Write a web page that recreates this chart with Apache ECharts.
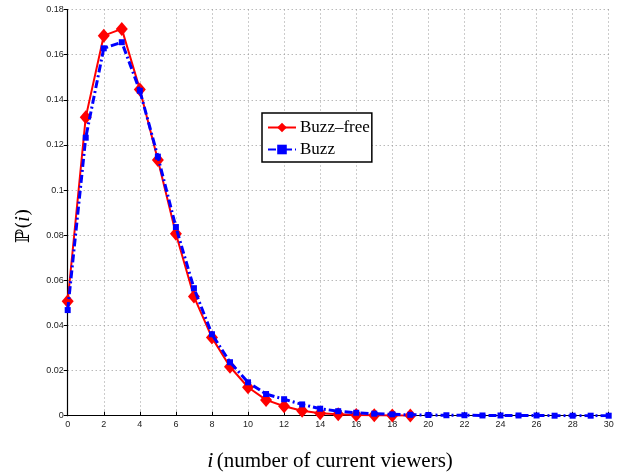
<!DOCTYPE html>
<html>
<head>
<meta charset="utf-8">
<script src="https://cdn.jsdelivr.net/npm/echarts@6/dist/echarts.min.js"></script>
<style>html,body{margin:0;padding:0;background:#fff}#c{width:638px;height:475px}</style>
</head>
<body>
<div id="c"></div>
<script>
var xValues = [0,1,2,3,4,5,6,7,8,9,10,11,12,13,14,15,16,17,18,19,20,21,22,23,24,25,26,27,28,29,30];
var buzzFree = [0.0507,0.1322,0.1684,0.1714,0.1446,0.1133,0.0806,0.0528,0.0346,0.0217,0.0126,0.0070,0.0042,0.0022,0.0011,0.0006,0.0003,0.0002,0.0001,0.0001];
var buzz = [0.0468,0.1232,0.1628,0.1655,0.1440,0.1148,0.0836,0.0565,0.0361,0.0237,0.0148,0.0096,0.0073,0.0050,0.0031,0.0020,0.0013,0.0009,0.0006,0.0004,0.0003,0.0002,0.0002,0.0001,0.0001,0.0001,0.0001,0.0000,0.0000,0.0000,0.0000];
var yTicks = [0,0.02,0.04,0.06,0.08,0.1,0.12,0.14,0.16,0.18];
var xTicks = [0,2,4,6,8,10,12,14,16,18,20,22,24,26,28,30];

function pairs(vals){ return vals.map(function(v,i){ return [xValues[i], v]; }); }

var chart = echarts.init(document.getElementById('c'), null, {renderer:'canvas'});
var labelFont = {fontFamily:'Liberation Sans, Arial, sans-serif', fontSize:9, color:'#222'};
chart.setOption({
  animation:false,
  backgroundColor:'#fff',
  grid:{left:67.7, right:29.3, top:9.5, bottom:59.3, containLabel:false},
  xAxis:{
    type:'value', min:xTicks[0], max:xTicks[xTicks.length-1], interval:2,
    axisLine:{onZero:false, lineStyle:{color:'#000', width:1.2}},
    axisTick:{inside:true, length:4, lineStyle:{color:'#000'}},
    axisLabel:Object.assign({margin:4}, labelFont),
    splitLine:{show:true, lineStyle:{color:'#999', type:[1,3], width:1}}
  },
  yAxis:{
    type:'value', min:yTicks[0], max:yTicks[yTicks.length-1], interval:0.02,
    axisLine:{show:true, onZero:false, lineStyle:{color:'#000', width:1.2}},
    axisTick:{show:true, inside:false, length:4, lineStyle:{color:'#000'}},
    axisLabel:Object.assign({margin:4}, labelFont),
    splitLine:{show:true, lineStyle:{color:'#999', type:[1,3], width:1}}
  },
  legend:{
    orient:'vertical', left:262, top:113,
    backgroundColor:'#fff', borderColor:'#000', borderWidth:1.5, borderRadius:0,
    padding:[6,2,4,5], itemGap:5, itemWidth:28, itemHeight:12,
    textStyle:{fontFamily:'Liberation Serif, Times New Roman, serif', fontSize:17, color:'#000', padding:[0,0,0,-1]},
    data:['Buzz–free','Buzz']
  },
  series:[
    {
      name:'Buzz–free', type:'line', data:pairs(buzzFree), z:3,
      symbol:'diamond', symbolSize:[12,14],
      itemStyle:{color:'#ff0000'},
      lineStyle:{color:'#ff0000', width:2}
    },
    {
      name:'Buzz', type:'line', data:pairs(buzz), z:4,
      symbol:'rect', symbolSize:6,
      itemStyle:{color:'#0000ff'},
      lineStyle:{color:'#0000ff', width:3, type:[8,3,2,3]}
    }
  ],
  graphic:[
    {type:'text', x:24, y:226, rotation:Math.PI/2,
      style:{text:'{a|ℙ(}{b|i}{a|)}', align:'center', verticalAlign:'middle',
        rich:{a:{fontFamily:'DejaVu Serif, Liberation Serif, serif', fontSize:19, fill:'#000'},
              b:{fontFamily:'Liberation Serif, serif', fontStyle:'italic', fontSize:20, fill:'#000'}}}},
    {type:'text', x:330, y:461,
      style:{text:'{b|i} {a|(number of current viewers)}', align:'center', verticalAlign:'middle',
        rich:{a:{fontFamily:'Liberation Serif, Times New Roman, serif', fontSize:21, fill:'#000'},
              b:{fontFamily:'Liberation Serif, Times New Roman, serif', fontStyle:'italic', fontSize:22, fill:'#000'}}}}
  ]
});
</script>
</body>
</html>
